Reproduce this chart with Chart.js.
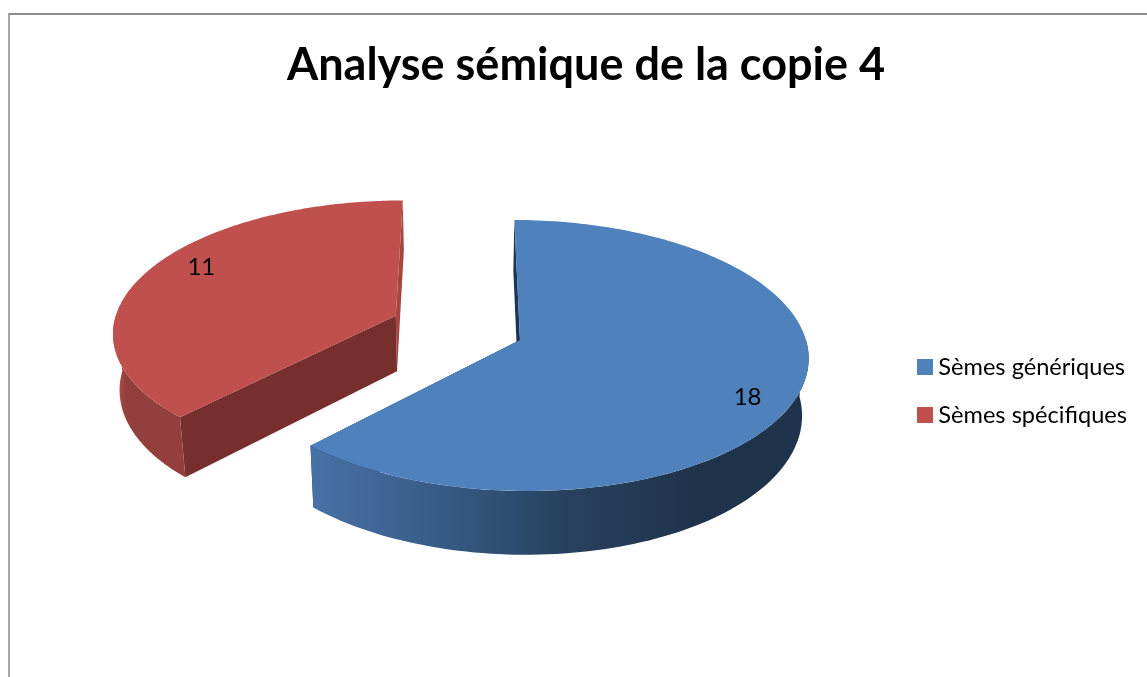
<!DOCTYPE html>
<html lang="fr">
<head>
<meta charset="utf-8">
<title>Analyse sémique de la copie 4</title>
<script src="https://cdn.jsdelivr.net/npm/chart.js@4"></script>
<style>
    html, body { margin: 0; background: #fff; overflow: hidden; }
    #frame { position: absolute; left: 8px; top: 13px; right: 0; bottom: 0; border-top: 2px solid #8c8c8c; border-left: 2px solid #a6a6a6; }
    #wrap { position: absolute; left: 0; top: 0; width: 1147px; height: 677px; }
</style>
</head>
<body>
<div id="frame"></div>
<div id="wrap"><canvas id="mainChart"></canvas></div>
<script>
// Data
const chartTitle = 'Analyse sémique de la copie 4';
const categories = ['Sèmes génériques', 'Sèmes spécifiques'];
const values = [18, 11];

// Slice colours
const topColors = ['#4f81bd', '#c0504d'];
const startCutColors = ['#1b3558', '#772f2d'];
const endCutColors = ['#1b3558', '#a54643'];
const rimStops = [
    [[0, '#4872a6'], [0.25, '#375c88'], [0.5, '#28425f'], [0.8, '#1e3249'], [1, '#1f334c']],
    [[0, '#a84c49'], [0.1, '#a84c49'], [0.2, '#923f3d'], [1, '#923f3d']]
];

// Fake 3D camera: Chart.js has no 3D pie, so the arcs it computes get projected here
const fontFamily = 'Lato, sans-serif';
const pieCenter = { x: 519, y: 340 };
const camera = { scaleX: 0.993, scaleY: 0.4643, persp: 0.000397, lean: 0.0214, depth: 56.5, taper: 0.981, taperX: 461 };
const sliceNudge = [[1, 0], [-2, -4]];
const labelRadius = 0.845;
const labelTurn = 0.115;

function project(wx, wy, down) {
    const s = 1 / (1 - camera.persp * wy);
    let x = pieCenter.x + (wx * camera.scaleX + wy * camera.lean) * s;
    let y = pieCenter.y + wy * camera.scaleY * s;
    if (down) {
        x = camera.taperX + (x - camera.taperX) * camera.taper;
        y += camera.depth * s;
    }
    return { x, y };
}

// World position of an arc point, relative to the un-exploded pie centre
function arcPoint(arc, i, angle, radius) {
    const mid = (arc.startAngle + arc.endAngle) / 2;
    const off = arc.options.offset || 0;
    return {
        x: off * Math.cos(mid) + radius * Math.cos(angle) + sliceNudge[i][0],
        y: off * Math.sin(mid) + radius * Math.sin(angle) + sliceNudge[i][1]
    };
}

function fillPoly(ctx, pts, fill) {
    ctx.beginPath();
    pts.forEach((p, i) => i ? ctx.lineTo(p.x, p.y) : ctx.moveTo(p.x, p.y));
    ctx.closePath();
    ctx.fillStyle = fill;
    ctx.fill();
}

function cutFace(arc, i, angle) {
    const apex = arcPoint(arc, i, 0, 0);
    const rim = arcPoint(arc, i, angle, arc.outerRadius);
    return [
        project(apex.x, apex.y, false), project(rim.x, rim.y, false),
        project(rim.x, rim.y, true), project(apex.x, apex.y, true)
    ];
}

function drawSlice(ctx, arc, i) {
    const R = arc.outerRadius;
    const steps = 90;

    fillPoly(ctx, cutFace(arc, i, arc.endAngle), endCutColors[i]);
    fillPoly(ctx, cutFace(arc, i, arc.startAngle), startCutColors[i]);

    // Outer wall, only the part facing the viewer
    const from = Math.max(arc.startAngle, 0);
    const to = Math.min(arc.endAngle, Math.PI);
    const upper = [], lower = [];
    for (let k = 0; k <= steps; k++) {
        const p = arcPoint(arc, i, from + (to - from) * k / steps, R);
        upper.push(project(p.x, p.y, false));
        lower.push(project(p.x, p.y, true));
    }
    const xs = upper.map(p => p.x);
    const grad = ctx.createLinearGradient(Math.min(...xs), 0, Math.max(...xs), 0);
    rimStops[i].forEach(s => grad.addColorStop(s[0], s[1]));
    fillPoly(ctx, upper.concat(lower.reverse()), grad);

    // Top face
    const top = [];
    const a = arcPoint(arc, i, 0, 0);
    top.push(project(a.x, a.y, false));
    for (let k = 0; k <= steps * 2; k++) {
        const p = arcPoint(arc, i, arc.startAngle + (arc.endAngle - arc.startAngle) * k / (steps * 2), R);
        top.push(project(p.x, p.y, false));
    }
    fillPoly(ctx, top, arc.options.backgroundColor);
}

const pie3d = {
    id: 'pie3d',
    beforeDatasetDraw(chart, args) {
        const ctx = chart.ctx;
        args.meta.data.forEach((arc, i) => drawSlice(ctx, arc, i));
        return false; // the flat arcs are replaced by the projected ones
    },
    afterDatasetsDraw(chart) {
        const ctx = chart.ctx;
        const meta = chart.getDatasetMeta(0);
        ctx.save();
        ctx.font = '24px ' + fontFamily;
        ctx.fillStyle = '#000';
        ctx.textAlign = 'center';
        ctx.textBaseline = 'middle';
        meta.data.forEach((arc, i) => {
            const angle = (arc.startAngle + arc.endAngle) / 2 + labelTurn;
            const p = arcPoint(arc, i, angle, arc.outerRadius * labelRadius);
            const s = project(p.x, p.y, false);
            ctx.fillText(String(chart.data.datasets[0].data[i]), s.x + 2, s.y + 1);
        });
        ctx.restore();
    }
};

new Chart(document.getElementById('mainChart').getContext('2d'), {
    type: 'pie',
    data: {
        labels: categories,
        datasets: [{
            data: values,
            backgroundColor: topColors,
            borderWidth: 0,
            offset: [0, 133],
            clip: false
        }]
    },
    options: {
        responsive: true,
        maintainAspectRatio: false,
        animation: false,
        radius: 288,
        layout: { padding: { left: 35, right: 10 } },
        plugins: {
            title: {
                display: true,
                text: chartTitle,
                color: '#000',
                font: { family: fontFamily, size: 45, weight: 'bold' },
                padding: { top: 38, bottom: 13 }
            },
            legend: {
                position: 'right',
                fullSize: false,
                labels: {
                    color: '#000',
                    font: { family: fontFamily, size: 23.6 },
                    usePointStyle: true,
                    pointStyle: 'rect',
                    boxWidth: 3,
                    boxHeight: 16,
                    padding: 24.4
                }
            },
            tooltip: { enabled: false }
        }
    },
    plugins: [pie3d]
});
</script>
</body>
</html>
